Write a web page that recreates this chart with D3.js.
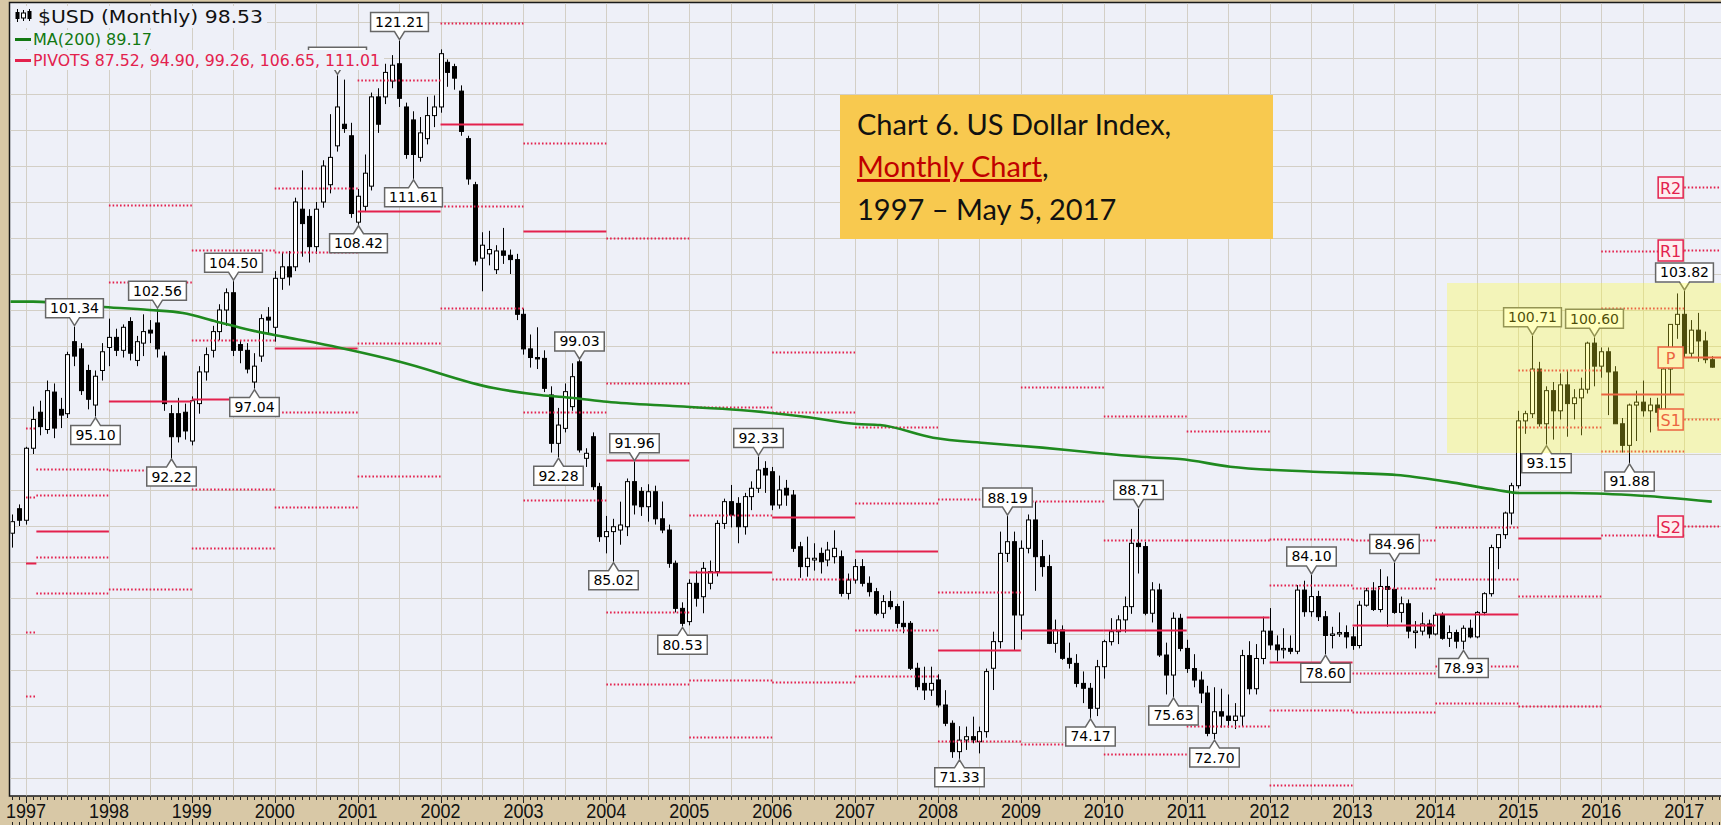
<!DOCTYPE html>
<html><head><meta charset="utf-8">
<script src="https://cdn.jsdelivr.net/npm/d3@7"></script>
<style>html,body{margin:0;padding:0;background:#d8c8a6;overflow:hidden}svg{display:block}</style>
</head><body>
<svg id="c" width="1721" height="825"></svg>
<script>
// ---------------- DATA ----------------
// monthly candles, Nov 1996 .. May 2017 (index 0 = Nov 1996, month offset -2 from Jan 1997)
const firstMonthOffset = -2;
const opens = [
 87.0, 88.7,
 87.9, 92.9, 95.4, 94.2, 96.8, 95.6, 95.3, 100.3, 99.8, 98.3, 95.9, 98.3,
 99.9, 100.6, 99.7, 101.7, 99.0, 100.2, 101.1, 101.6, 99.3, 95.3, 95.3, 95.4,
 93.4, 96.0, 98.2, 99.7, 101.0, 102.5, 103.7, 100.1, 99.7, 97.5, 99.3, 102.0,
 101.3, 104.7, 105.5, 105.5, 109.5, 109.0, 106.9, 110.0, 111.2, 113.9, 115.4, 114.6,
 108.6, 109.7, 111.1, 117.3, 117.3, 118.4, 119.6, 116.6, 115.7, 113.1, 114.4, 116.0,
 116.6, 119.7, 119.4, 117.7, 114.4, 111.2, 106.1, 106.4, 105.3, 106.6, 106.3, 106.0,
 102.2, 99.8, 99.2, 99.14, 96.6, 93.24, 94.28, 95.79, 98.9, 92.2, 93.7, 90.23,
 86.76, 87.11, 87.22, 87.45, 90.58, 89.9, 88.84, 89.88, 88.0, 87.22, 84.91, 81.78,
 80.86, 83.52, 82.59, 83.52, 84.33, 87.68, 89.19, 89.07, 87.45, 89.54, 90.12, 91.5,
 91.27, 88.96, 90.12, 89.65, 86.06, 84.68, 85.14, 85.6, 85.14, 85.37, 85.37, 82.82,
 83.75, 84.68, 83.52, 82.94, 81.44, 82.25, 81.9, 80.74, 80.74, 77.62, 76.57, 76.11,
 76.81, 75.07, 73.8, 71.83, 72.64, 72.87, 72.52, 73.22, 77.62, 79.47, 85.6, 86.41,
 81.32, 85.95, 87.92, 85.37, 84.68, 79.35, 80.28, 78.31, 77.96, 76.57, 76.23, 74.84,
 77.73, 79.47, 80.16, 80.98, 81.9, 86.3, 86.07, 81.44, 83.06, 78.54, 77.15, 81.09,
 79.0, 77.6, 76.8, 75.9, 73.1, 74.6, 74.3, 74.0, 74.3, 78.5, 76.2, 78.3,
 80.2, 79.24, 78.9, 79.0, 78.8, 83.05, 81.55, 82.6, 81.2, 79.9, 80.0, 80.1,
 79.8, 79.2, 82.0, 83.0, 81.7, 83.3, 83.1, 81.5, 82.1, 80.1, 80.2, 80.7,
 80.0, 81.3, 79.7, 80.1, 79.5, 80.4, 79.8, 81.5, 82.8, 86.0, 86.9, 88.4,
 90.3, 94.8, 95.3, 98.4, 94.6, 96.9, 95.5, 97.3, 96.0, 96.4, 97.0, 100.2,
 98.6, 99.6, 98.2, 94.6, 93.1, 95.9, 96.1, 95.5, 95.9, 95.4, 98.4, 101.5,
 102.2, 99.5, 101.1, 100.35, 99.05
];
const highs = [
 88.3, 89.0,
 93.0, 95.8, 96.2, 97.6, 97.4, 96.4, 99.6, 101.34, 100.2, 98.7, 98.3, 100.2,
 101.9, 101.2, 101.5, 102.0, 100.7, 102.2, 101.8, 102.56, 99.6, 95.9, 96.4, 96.0,
 96.5, 98.6, 99.9, 101.4, 102.9, 104.0, 104.50, 100.4, 100.2, 99.5, 102.2, 102.7,
 105.2, 106.5, 106.6, 110.3, 112.2, 109.5, 110.0, 112.9, 116.1, 118.8, 118.5, 115.5,
 110.9, 113.3, 117.6, 117.9, 119.6, 120.2, 121.21, 116.9, 116.3, 115.9, 117.3, 117.4,
 120.6, 119.9, 119.6, 118.1, 114.6, 111.4, 107.9, 108.0, 107.0, 108.2, 106.7, 106.4,
 102.6, 100.8, 101.3, 99.7, 97.2, 95.7, 97.4, 98.8, 99.03, 92.9, 94.0, 90.5,
 88.2, 88.0, 89.19, 90.8, 91.96, 90.2, 90.4, 90.3, 89.2, 87.6, 85.1, 82.2,
 83.8, 84.4, 85.0, 85.1, 87.9, 89.4, 90.35, 89.5, 89.8, 90.6, 92.33, 92.0,
 91.6, 91.0, 90.7, 90.0, 86.4, 86.76, 86.3, 86.0, 86.4, 87.2, 85.8, 84.2,
 85.2, 85.2, 84.0, 83.2, 82.7, 83.0, 82.1, 82.3, 80.9, 78.0, 77.73, 77.73,
 77.2, 76.1, 74.0, 73.6, 73.57, 74.26, 73.57, 77.6, 80.16, 87.11, 88.19, 87.11,
 86.5, 88.3, 89.19, 86.53, 85.5, 81.0, 80.6, 79.4, 78.6, 77.4, 76.6, 78.2,
 79.6, 81.1, 81.3, 82.6, 87.3, 88.71, 86.4, 83.6, 83.5, 79.4, 81.5, 81.4,
 79.6, 78.6, 77.4, 76.4, 76.3, 76.2, 75.8, 75.2, 78.9, 79.5, 79.3, 81.2,
 81.8, 79.9, 80.4, 79.9, 83.4, 83.7, 84.10, 83.0, 81.6, 80.5, 81.5, 80.6,
 80.5, 82.3, 83.2, 83.6, 84.5, 84.0, 84.96, 82.6, 82.4, 80.9, 81.5, 81.0,
 81.5, 81.5, 80.6, 80.3, 80.6, 81.0, 81.6, 82.9, 86.2, 86.9, 88.5, 90.5,
 95.5, 95.5, 100.71, 98.9, 97.2, 97.5, 98.1, 98.3, 97.0, 97.8, 100.3, 100.60,
 99.9, 99.9, 98.6, 95.0, 96.0, 96.9, 97.6, 96.4, 96.4, 98.8, 101.5, 103.65,
 103.82, 101.8, 102.3, 101.0, 99.3
];
const lows = [
 86.0, 87.5,
 87.6, 92.5, 93.8, 93.9, 93.6, 94.3, 95.0, 98.6, 96.6, 95.6, 95.10, 97.6,
 98.6, 99.3, 99.2, 99.0, 98.6, 99.3, 100.2, 99.2, 95.5, 92.22, 93.3, 93.5,
 93.1, 95.3, 97.6, 99.2, 100.4, 101.4, 99.3, 98.8, 98.1, 97.04, 98.9, 100.9,
 100.3, 103.9, 104.2, 105.2, 106.2, 105.8, 106.4, 109.6, 110.6, 113.5, 114.8, 108.9,
 108.42, 109.3, 110.8, 114.8, 116.8, 117.9, 116.6, 113.0, 111.61, 112.8, 114.0, 115.2,
 116.2, 118.0, 117.8, 114.6, 111.2, 105.6, 103.8, 105.6, 105.0, 105.7, 105.0, 101.8,
 99.4, 98.5, 98.4, 96.8, 92.6, 92.28, 94.0, 95.5, 92.6, 91.6, 90.0, 86.4,
 85.6, 85.02, 86.2, 86.8, 88.3, 88.2, 87.8, 87.6, 87.0, 84.6, 81.5, 80.53,
 80.6, 81.9, 81.44, 83.1, 84.0, 87.3, 87.4, 86.3, 86.9, 88.6, 89.8, 89.8,
 88.6, 88.7, 88.9, 85.7, 83.9, 83.98, 84.4, 84.2, 84.7, 84.9, 82.6, 82.4,
 83.5, 83.3, 82.6, 81.3, 81.1, 81.7, 80.4, 80.05, 77.5, 76.1, 75.42, 75.7,
 74.9, 73.6, 71.4, 71.33, 71.95, 72.41, 71.71, 72.8, 76.11, 79.0, 85.0, 78.89,
 79.6, 85.6, 83.0, 83.98, 79.3, 78.7, 78.2, 77.6, 76.3, 75.2, 74.17, 74.3,
 76.9, 79.2, 79.3, 80.1, 81.4, 84.2, 81.3, 80.8, 78.4, 75.8, 75.63, 78.8,
 77.3, 76.3, 75.2, 72.9, 72.70, 73.5, 73.5, 73.4, 73.6, 75.8, 75.8, 77.9,
 78.9, 78.1, 78.3, 78.6, 78.6, 81.2, 81.2, 80.9, 78.60, 79.0, 79.8, 79.0,
 78.9, 79.0, 81.9, 81.6, 81.5, 80.5, 81.4, 80.8, 79.7, 79.0, 79.9, 79.7,
 79.9, 79.6, 79.1, 79.0, 78.93, 79.7, 79.7, 81.3, 82.6, 84.5, 86.6, 87.6,
 90.1, 93.9, 95.0, 94.4, 93.15, 93.5, 94.9, 93.7, 94.9, 93.8, 96.7, 97.2,
 97.8, 95.2, 94.6, 92.6, 91.88, 93.4, 95.1, 94.0, 94.4, 95.3, 96.6, 100.5,
 99.2, 99.2, 98.9, 98.8, 98.5
];
const closes = [
 87.8, 87.9,
 92.9, 94.9, 94.4, 96.9, 94.3, 95.2, 99.4, 99.3, 96.9, 96.3, 97.9, 99.6,
 100.6, 99.7, 101.3, 99.5, 100.3, 101.0, 100.9, 99.8, 96.0, 93.7, 93.7, 94.1,
 96.2, 98.2, 99.4, 101.0, 102.5, 103.7, 99.7, 99.7, 98.4, 98.6, 101.9, 101.8,
 104.7, 105.5, 104.8, 110.0, 108.5, 106.9, 109.5, 112.5, 113.1, 116.6, 115.1, 109.2,
 110.4, 112.0, 117.3, 115.4, 119.0, 119.5, 117.2, 113.3, 113.3, 114.8, 116.0, 116.6,
 120.3, 119.0, 118.6, 114.9, 111.6, 105.9, 107.0, 106.7, 106.6, 106.3, 106.0, 102.2,
 99.8, 99.2, 99.1, 97.06, 93.24, 94.51, 96.83, 97.87, 92.78, 92.55, 90.23, 86.76,
 87.11, 87.45, 87.57, 90.58, 88.96, 88.84, 89.88, 88.0, 87.22, 84.91, 81.78, 80.74,
 83.52, 82.48, 84.56, 84.33, 87.68, 89.19, 88.26, 87.45, 89.54, 90.12, 91.39, 91.04,
 88.96, 90.0, 89.65, 85.95, 84.68, 85.26, 85.26, 85.02, 85.83, 85.95, 82.82, 83.75,
 84.68, 83.52, 82.94, 81.44, 82.25, 81.9, 80.74, 80.51, 77.62, 76.34, 76.11, 76.57,
 75.07, 73.8, 71.83, 72.63, 72.87, 72.64, 73.22, 77.39, 79.47, 85.6, 86.41, 81.32,
 85.95, 87.92, 85.37, 84.68, 79.35, 80.28, 78.31, 77.96, 76.57, 76.23, 74.84, 77.73,
 79.47, 80.16, 80.98, 81.9, 86.3, 86.07, 81.44, 83.06, 78.54, 77.15, 81.09, 79.0,
 77.6, 76.8, 75.9, 73.1, 74.6, 74.3, 74.0, 74.3, 78.5, 76.2, 78.3, 80.2,
 79.24, 78.9, 79.0, 78.8, 83.05, 81.55, 82.6, 81.2, 79.9, 80.0, 80.1, 79.8,
 79.2, 82.0, 83.0, 81.7, 83.3, 83.1, 81.5, 82.1, 80.2, 80.2, 80.7, 80.0,
 81.3, 79.7, 80.1, 79.5, 80.4, 79.8, 81.5, 82.8, 86.0, 86.9, 88.4, 90.3,
 94.8, 95.3, 98.4, 94.6, 96.9, 95.5, 97.3, 96.0, 96.4, 97.0, 100.2, 98.6,
 99.6, 98.2, 94.6, 93.1, 95.9, 96.1, 95.5, 95.9, 95.4, 98.4, 101.5, 102.2,
 99.5, 101.1, 100.35, 99.05, 98.53
];

// MA(200) line (month index from Jan 1997, value)
const maMonths = [-2.3, 1, 10.7, 17.9, 22.7, 27.6, 32.4, 37.2, 42.1, 46.9, 54.1, 67.7, 74.4, 79.2, 84.1, 93.6, 103.3, 113, 120.3, 123.6, 131.3, 139.2, 147.1, 155, 163, 167, 174.3, 186.3, 198.4, 205.7, 212.9, 216.2, 223.5, 232.2, 244];
const maValues = [103.08, 103.08, 102.73, 102.5, 102.29, 101.69, 101.11, 100.65, 100.21, 99.72, 98.91, 97.08, 96.6, 96.39, 96.13, 95.83, 95.56, 95.07, 94.58, 94.51, 93.63, 93.25, 92.94, 92.57, 92.26, 92.15, 91.62, 91.27, 91.04, 90.58, 90.0, 89.79, 89.79, 89.65, 89.19];

// yearly pivot periods (month index) and levels
const pivotStart = [0, 1.5, 12, 24, 36, 48, 60, 72, 84, 96, 108, 120, 132, 144, 156, 168, 180, 192, 204, 216, 228, 240];
const pivotEnd   = [1.5, 12, 24, 36, 48, 60, 72, 84, 96, 108, 120, 132, 144, 156, 168, 180, 192, 204, 216, 228, 240, 247];
const pivotR2 = [94.31, 91.45, 109.8, 106.66, 110.99, null, null, null, 107.5, 95.78, 99.56, 94.4, 89.38, 97.14, 95.11, 94.1, 86.6, 86.5, 87.4, 98.3, 106.62, 111.01];
const pivotR1 = [89.51, 89.65, 104.46, 100.42, 106.55, 118.5, 122.45, 114.1, 97.4, 88.26, 95.4, 89.1, 82.94, 89.23, 86.5, 86.5, 83.4, 83.2, 83.8, 94.4, 102.66, 106.65];
const pivotP  = [84.93, 87.15, 96.2, 96.32, 99.84, 109.4, 115.4, 107.98, 92.1, 84.33, 88.1, 85.76, 78.89, 80.28, 80.28, 81.2, 78.08, 80.6, 81.4, 86.7, 96.65, 99.26];
const pivotS1 = [80.14, 85.35, 91.39, 90.08, 95.4, 100.2, 109.7, 95.4, 81.5, 76.81, 83.8, 80.28, 72.59, 72.37, 71.67, 73.6, 74.72, 77.3, 77.8, 82.64, 92.73, 94.90];
const pivotS2 = [75.69, 82.85, 83.1, 85.98, 88.84, 90.95, 102.65, 89.3, 76.5, 72.88, 76.64, 77.1, null, null, null, null, 69.5, 74.6, 75.2, 75.0, 86.88, 87.52];
const currentPivotNames = ["R2", "R1", "P", "S1", "S2"];

// swing labels (value, month index)
const highLabelValues = ["101.34","102.56","104.50","121.21","99.03","91.96","92.33","88.19","88.71","84.10","84.96","100.71","100.60","103.82"];
const highLabelMonths = [7, 19, 30, 54, 80, 88, 106, 142, 161, 186, 198, 218, 227, 240];
const lowLabelValues = ["95.10","92.22","97.04","108.42","111.61","92.28","85.02","80.53","71.33","74.17","75.63","72.70","78.60","78.93","93.15","91.88"];
const lowLabelMonths = [10, 21, 33, 48, 56, 77, 85, 95, 135, 154, 166, 172, 188, 208, 220, 232];
const hiddenLabel = {value: 118.8, month: 45};

const yearTicks = d3.range(1997, 2018);
const legendLines = ["$USD (Monthly) 98.53", "MA(200) 89.17", "PIVOTS 87.52, 94.90, 99.26, 106.65, 111.01"];

// ---------------- CHART ----------------
const W = 1721, H = 825;
const plotL = 9.5, plotT = 2.5, plotB = 796;
const x = d3.scaleLinear().domain([0, 240]).range([26, 26 + 6.909 * 240]);
const y = d3.scaleLinear().domain([70, 120]).range([778, 58]);

const svg = d3.select("#c");
svg.append("rect").attr("width", W).attr("height", H).attr("fill", "#d8c8a6");
svg.append("defs").append("clipPath").attr("id", "pc")
  .append("rect").attr("x", plotL + 1).attr("y", plotT + 1).attr("width", W - plotL).attr("height", plotB - plotT - 1.5);
svg.append("rect").attr("x", plotL).attr("y", plotT).attr("width", W).attr("height", plotB - plotT)
  .attr("fill", "#eef0f8").attr("stroke", "#1a1a1a").attr("stroke-width", 1.5);

const g = svg.append("g").attr("clip-path", "url(#pc)");

// grid
g.append("g").selectAll("line").data(d3.range(0, 246, 6)).join("line")
  .attr("x1", d => Math.round(x(d)) + 0.5).attr("x2", d => Math.round(x(d)) + 0.5)
  .attr("y1", plotT).attr("y2", plotB).attr("stroke", "#d3cfc6").attr("stroke-width", 1);
g.append("g").selectAll("line").data(d3.range(70, 124, 2.5)).join("line")
  .attr("x1", plotL).attr("x2", W).attr("y1", d => Math.round(y(d)) + 0.5).attr("y2", d => Math.round(y(d)) + 0.5)
  .attr("stroke", "#d3cfc6").attr("stroke-width", 1);

// candles
const candles = closes.map((c, i) => ({m: i + firstMonthOffset, o: opens[i], h: highs[i], l: lows[i], c: c}));
const cg = g.append("g");
cg.selectAll("line").data(candles).join("line")
  .attr("x1", d => Math.round(x(d.m)) + 0.5).attr("x2", d => Math.round(x(d.m)) + 0.5)
  .attr("y1", d => y(d.h)).attr("y2", d => y(d.l)).attr("stroke", "#000").attr("stroke-width", 1);
cg.selectAll("rect").data(candles).join("rect")
  .attr("x", d => Math.round(x(d.m)) - 1.5).attr("width", 4)
  .attr("y", d => y(Math.max(d.o, d.c)))
  .attr("height", d => Math.max(0.5, Math.abs(y(d.o) - y(d.c))))
  .attr("fill", d => d.c >= d.o ? "#fff" : "#000").attr("stroke", "#000").attr("stroke-width", 1);

// pivots
const pivotSets = [pivotR2, pivotR1, pivotP, pivotS1, pivotS2];
const pivColor = "#e3214d";
pivotSets.forEach((arr, k) => {
  const segs = arr.map((v, i) => ({v, s: pivotStart[i], e: pivotEnd[i]})).filter(d => d.v !== null);
  g.append("g").selectAll("line").data(segs).join("line")
    .attr("x1", d => x(d.s)).attr("x2", d => x(d.e))
    .attr("y1", d => Math.round(y(d.v)) + 0.5).attr("y2", d => Math.round(y(d.v)) + 0.5)
    .attr("stroke", pivColor).attr("stroke-width", 2)
    .attr("stroke-dasharray", k === 2 ? null : "1.6,2.1");
});

// MA line
g.append("path").datum(maMonths.map((m, i) => [m, maValues[i]]))
  .attr("d", d3.line().x(d => x(d[0])).y(d => y(d[1])).curve(d3.curveMonotoneX))
  .attr("fill", "none").attr("stroke", "#1f8a1f").attr("stroke-width", 2.6);

// swing labels
const lab = g.append("g");
const boxH = 19, notch = 8;
function labelPath(cx, w, tipY, high) {
  const x0 = cx - w / 2, x1 = cx + w / 2;
  if (high) {
    const bot = tipY - notch, top = bot - boxH;
    return {d: `M${x0},${top}H${x1}V${bot}H${cx + 5}L${cx},${tipY}L${cx - 5},${bot}H${x0}Z`, ty: top + 14.5};
  } else {
    const top = tipY + notch, bot = top + boxH;
    return {d: `M${x0},${top}H${cx - 5}L${cx},${tipY}L${cx + 5},${top}H${x1}V${bot}H${x0}Z`, ty: top + 14.5};
  }
}
function addLabel(text, m, high) {
  const cx = Math.round(x(m)) + 0.5;
  const w = text.length * 8.3 + 8;
  const v = +text;
  const tip = high ? y(v) - 1 : y(v) + 1;
  const p = labelPath(cx, w, tip, high);
  lab.append("path").attr("d", p.d).attr("fill", "#fff").attr("stroke", "#666").attr("stroke-width", 1.5);
  lab.append("text").attr("x", cx).attr("y", p.ty).attr("text-anchor", "middle")
    .attr("font-family", "DejaVu Sans").attr("font-size", 14).attr("fill", "#000").text(text);
}
// hidden label behind legend (only frame visible)
{
  const cx = Math.round(x(hiddenLabel.month)) + 0.5;
  const p = labelPath(cx, 58, y(hiddenLabel.value) - 1, true);
  lab.append("path").attr("d", p.d).attr("fill", "#fff").attr("stroke", "#666").attr("stroke-width", 1.5);
}
highLabelValues.forEach((t, i) => addLabel(t, highLabelMonths[i], true));
lowLabelValues.forEach((t, i) => addLabel(t, lowLabelMonths[i], false));

// current pivot name boxes
const lastIdx = pivotP.length - 1;
const curLevels = [pivotR2[lastIdx], pivotR1[lastIdx], pivotP[lastIdx], pivotS1[lastIdx], pivotS2[lastIdx]];
const pb = g.append("g");
currentPivotNames.forEach((nm, i) => {
  const yy = Math.round(y(curLevels[i])) + 0.5;
  const xr = x(pivotStart[lastIdx]);
  pb.append("rect").attr("x", xr - 26).attr("y", yy - 10.5).attr("width", 25).attr("height", 21)
    .attr("fill", "#fdeef0").attr("stroke", pivColor).attr("stroke-width", 1.5);
  pb.append("text").attr("x", xr - 13.5).attr("y", yy + 6).attr("text-anchor", "middle")
    .attr("font-family", "DejaVu Sans").attr("font-size", 16).attr("fill", pivColor).text(nm);
});

// highlight zone
g.append("rect").attr("x", 1447).attr("y", 283).attr("width", W - 1447).attr("height", 170)
  .attr("fill", "rgba(255,255,40,0.30)");

// annotation box
const ann = svg.append("g");
ann.append("rect").attr("x", 840).attr("y", 95).attr("width", 433).attr("height", 144).attr("fill", "#f8c94f");
const annText = ann.append("text").attr("font-family", "Lato, 'Open Sans', sans-serif").attr("font-size", 29).attr("fill", "#111");
annText.append("tspan").attr("x", 857).attr("y", 135).text("Chart 6. US Dollar Index,");
const l2 = annText.append("tspan").attr("x", 857).attr("y", 177);
l2.append("tspan").attr("fill", "#c00000").attr("text-decoration", "underline").text("Monthly Chart");
l2.append("tspan").text(",");
annText.append("tspan").attr("x", 857).attr("y", 220).text("1997 \u2013 May 5, 2017");

// legend
const lg = svg.append("g");
lg.append("rect").attr("x", 11).attr("y", 6).attr("width", 256).attr("height", 22).attr("fill", "#eef0f8");
lg.append("rect").attr("x", 11).attr("y", 30).attr("width", 145).attr("height", 19).attr("fill", "#eef0f8");
lg.append("rect").attr("x", 11).attr("y", 50).attr("width", 373).attr("height", 20).attr("fill", "#eef0f8");
// icon
lg.append("line").attr("x1", 17.5).attr("x2", 17.5).attr("y1", 9).attr("y2", 22).attr("stroke", "#000");
lg.append("rect").attr("x", 15.5).attr("y", 12).attr("width", 4).attr("height", 7).attr("fill", "#000");
lg.append("line").attr("x1", 23.5).attr("x2", 23.5).attr("y1", 10).attr("y2", 21).attr("stroke", "#000");
lg.append("rect").attr("x", 21.5).attr("y", 13).attr("width", 4).attr("height", 5).attr("fill", "#fff").attr("stroke", "#000");
lg.append("line").attr("x1", 29.5).attr("x2", 29.5).attr("y1", 9).attr("y2", 21).attr("stroke", "#000");
lg.append("rect").attr("x", 27.5).attr("y", 11).attr("width", 4).attr("height", 8).attr("fill", "#000");
lg.append("text").attr("x", 38).attr("y", 23).attr("font-family", "DejaVu Sans").attr("font-size", 17)
  .attr("textLength", 225).attr("lengthAdjust", "spacingAndGlyphs").attr("fill", "#111").text(legendLines[0]);
lg.append("rect").attr("x", 15).attr("y", 38).attr("width", 16).attr("height", 3).attr("fill", "#127812");
lg.append("text").attr("x", 33).attr("y", 45).attr("font-family", "DejaVu Sans").attr("font-size", 16)
  .attr("textLength", 119).attr("lengthAdjust", "spacingAndGlyphs").attr("fill", "#127812").text(legendLines[1]);
lg.append("rect").attr("x", 15).attr("y", 59).attr("width", 16).attr("height", 3).attr("fill", pivColor);
lg.append("text").attr("x", 33).attr("y", 66).attr("font-family", "DejaVu Sans").attr("font-size", 16)
  .attr("textLength", 347).attr("lengthAdjust", "spacingAndGlyphs").attr("fill", pivColor).text(legendLines[2]);

// bottom axis
const ax = svg.append("g");
const monthsAll = d3.range(-2, 246);
ax.selectAll("line.t1").data(monthsAll).join("line")
  .attr("x1", d => Math.round(x(d)) + 0.5).attr("x2", d => Math.round(x(d)) + 0.5)
  .attr("y1", 797).attr("y2", d => d % 12 === 0 ? 803 : 800).attr("stroke", "#222");
ax.selectAll("line.t2").data(monthsAll).join("line")
  .attr("x1", d => Math.round(x(d)) + 0.5).attr("x2", d => Math.round(x(d)) + 0.5)
  .attr("y1", d => d % 12 === 0 ? 819 : 822).attr("y2", 825).attr("stroke", "#222");
ax.selectAll("text").data(yearTicks).join("text")
  .attr("x", d => x((d - 1997) * 12)).attr("y", 818).attr("text-anchor", "middle")
  .attr("font-family", "Liberation Sans").attr("font-size", 20)
  .attr("textLength", 40).attr("lengthAdjust", "spacingAndGlyphs")
  .attr("fill", "#111").text(d => d);
</script>
</body></html>
